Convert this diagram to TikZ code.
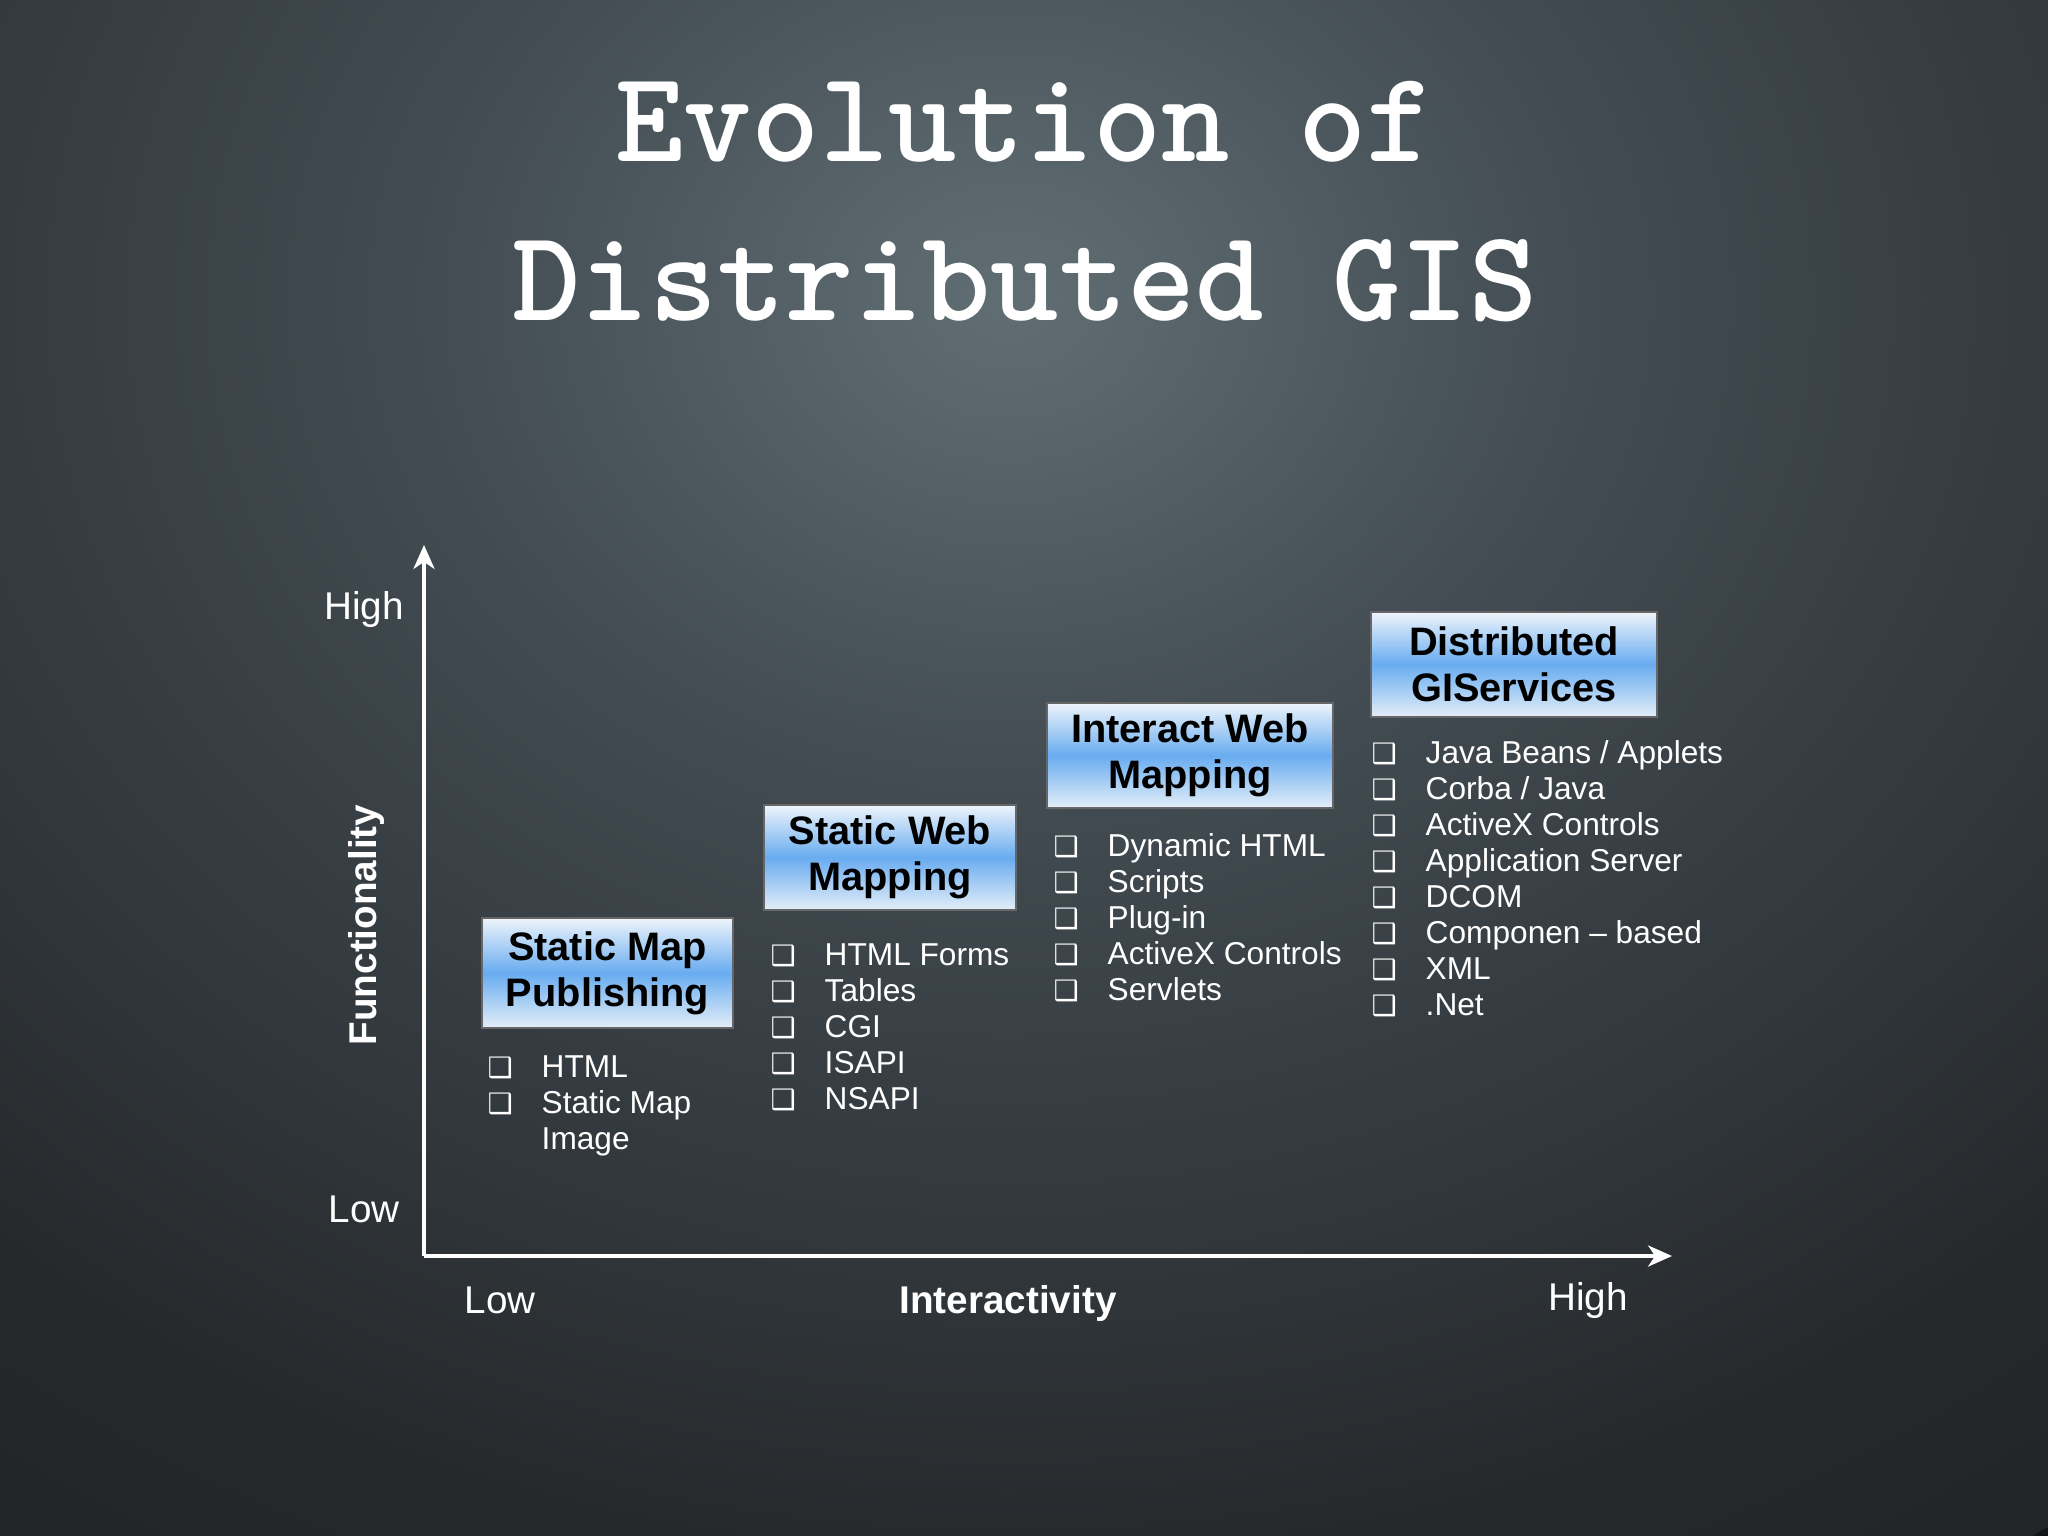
\documentclass[tikz,border=0pt]{standalone}
\usepackage{fontspec}
\setmainfont{Liberation Sans}
\newfontfamily\symfont{DejaVu Sans}
\usetikzlibrary{arrows.meta}

\definecolor{bgA}{RGB}{96,110,116}
\definecolor{bgB}{RGB}{66,76,82}
\definecolor{bgC}{RGB}{38,41,44}
\definecolor{bgD}{RGB}{20,20,20}
\definecolor{boxtop}{RGB}{238,244,251}
\definecolor{boxmid}{RGB}{104,172,240}
\definecolor{boxbot}{RGB}{228,238,248}

\pgfdeclareradialshading{slidebg}{\pgfpoint{0bp}{0bp}}{%
  color(0bp)=(bgA); color(8bp)=(bgB); color(21bp)=(bgC); color(40bp)=(bgD); color(50bp)=(bgD)}

\newcommand{\sqbul}{\makebox[0.54cm][l]{\symfont\bfseries\fontsize{8}{8}\selectfont ❑}}

\tikzset{
  title/.style={text=white, inner sep=0, anchor=base,
    font=\ttfamily\bfseries\fontsize{37}{45}\selectfont},
  stage/.style={draw=black!60, thin, inner sep=0, align=center,
    top color=boxtop, bottom color=boxbot, middle color=boxmid,
    font=\bfseries\fontsize{11.3}{13}\selectfont},
  items/.style={text=white, inner sep=0, anchor=north west, align=left,
    font=\fontsize{9}{10.25}\selectfont},
  axislabel/.style={text=white, inner sep=0, font=\fontsize{11}{13}\selectfont},
  axis/.style={draw=white, line width=1.1pt, -{Stealth[length=6.8pt,width=6pt,inset=2pt]}}
}

\begin{document}
\begin{tikzpicture}[x=0.01cm,y=-0.01cm]
\useasboundingbox (0,0) rectangle (2048,1536);
\begin{scope}
  \clip (0,0) rectangle (2048,1536);
  \fill[bgD] (0,0) rectangle (2048,1536);
  \shade[shading=slidebg] (1010,300) ellipse [x radius=18cm, y radius=15cm];
\end{scope}

% title
\node[title] (t1) at (1025,161) {Evolution of};
\node[title] (t2) at (1025,320) {Distributed GIS};

% axes
\coordinate (O) at (424,1256);
\coordinate (ytip) at (424,545);
\coordinate (xtip) at (1672,1256);
\path (O) edge[axis] (ytip);
\path (O) edge[axis] (xtip);

\node[axislabel] (yhigh) at (364,609) {High};
\node[axislabel] (ylow) at (364,1209) {Low};
\node[axislabel] (xlow) at (500,1300) {Low};
\node[axislabel] (xhigh) at (1588,1300) {High};
\node[axislabel, font=\bfseries\fontsize{11}{13}\selectfont] (xname) at (1008,1303) {Interactivity};
\node[axislabel, font=\bfseries\fontsize{11}{13}\selectfont, rotate=90] (yname) at (366,925) {Functionality};

% stages
\begin{scope}[every node/.style={stage}]
  \node[minimum width=2.51cm, minimum height=1.10cm] (smp) at (607.5,973) {Static Map\\Publishing};
  \node[minimum width=2.52cm, minimum height=1.05cm] (swm) at (890,857.5) {Static Web\\Mapping};
  \node[minimum width=2.86cm, minimum height=1.05cm] (iwm) at (1190,755.5) {Interact Web\\Mapping};
  \node[minimum width=2.86cm, minimum height=1.05cm] (dgi) at (1514,664.5) {Distributed\\GIServices};
\end{scope}

% technologies
\node[items] (smplist) at (487,1055) {\sqbul HTML\\ \sqbul Static Map\\ \hspace*{0.54cm}Image};
\node[items] (swmlist) at (770,943) {\sqbul HTML Forms\\ \sqbul Tables\\ \sqbul CGI\\ \sqbul ISAPI\\ \sqbul NSAPI};
\node[items] (iwmlist) at (1053,833) {\sqbul Dynamic HTML\\ \sqbul Scripts\\ \sqbul Plug-in\\ \sqbul ActiveX Controls\\ \sqbul Servlets};
\node[items] (dgilist) at (1371,740) {\sqbul Java Beans / Applets\\ \sqbul Corba / Java\\ \sqbul ActiveX Controls\\ \sqbul Application Server\\ \sqbul DCOM\\ \sqbul Componen -- based\\ \sqbul XML\\ \sqbul .Net};
\end{tikzpicture}
\end{document}
